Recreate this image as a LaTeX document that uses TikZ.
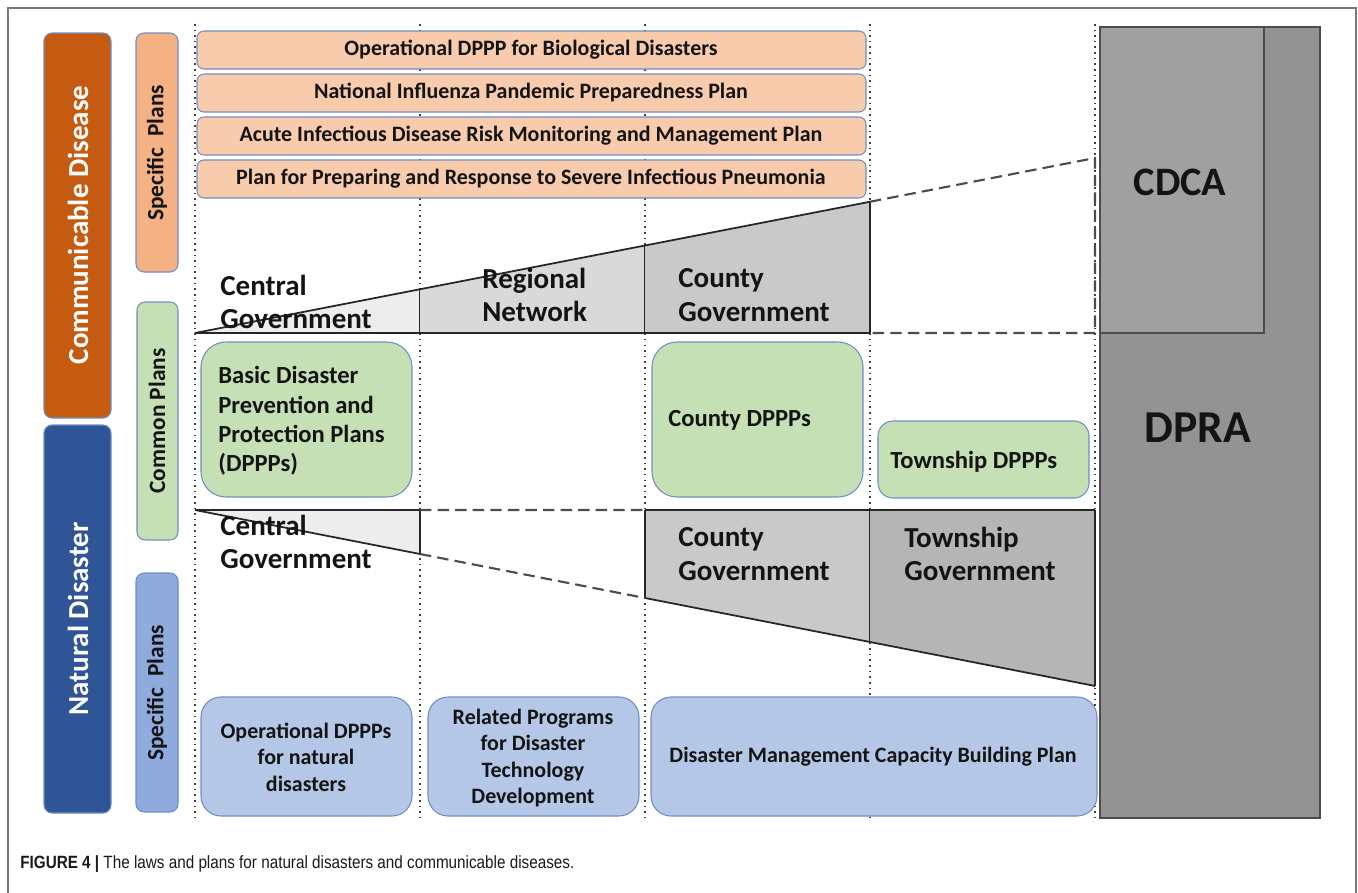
\documentclass[tikz,border=0pt]{standalone}
\usepackage{fontspec}
\setmainfont{Carlito}
\newfontfamily\captionfont[FakeStretch=0.86]{Liberation Sans}
\usepackage{tikz}
\usetikzlibrary{backgrounds}
\definecolor{comm}{RGB}{197, 90, 17}
\definecolor{natural}{RGB}{47, 85, 151}
\definecolor{specorange}{RGB}{244, 177, 131}
\definecolor{planorange}{RGB}{248, 203, 173}
\definecolor{plangreen}{RGB}{197, 224, 180}
\definecolor{specblue}{RGB}{143, 170, 220}
\definecolor{planblue}{RGB}{180, 199, 231}
\definecolor{edge}{RGB}{112, 141, 196}
\definecolor{tierA}{RGB}{237, 237, 237}
\definecolor{tierB}{RGB}{217, 217, 217}
\definecolor{tierC}{RGB}{201, 201, 201}
\definecolor{tierD}{RGB}{181, 181, 181}
\definecolor{cdcagray}{RGB}{160, 160, 160}
\definecolor{dpragray}{RGB}{147, 147, 147}
\definecolor{framegray}{RGB}{120, 120, 120}
\definecolor{ink}{RGB}{20, 20, 20}

\begin{document}
\begin{tikzpicture}[x=0.2mm, y=-0.2mm,
    bar/.style={draw=edge, line width=0.6pt, rounded corners=1.6mm},
    plan/.style={draw=edge, line width=0.6pt},
    colline/.style={black!75, line width=0.9pt, dash pattern=on 0.9pt off 2.3pt},
    tieredge/.style={black!85, line width=1pt},
    tiergap/.style={black!70, line width=1.2pt, dash pattern=on 6.5pt off 3.5pt},
    tierlabel/.style={ink, anchor=west, align=left, inner sep=0pt, font=\bfseries\fontsize{16.5}{19}\selectfont},
    sidelabel/.style={ink, rotate=90, inner sep=0pt, font=\bfseries\fontsize{13.3}{16}\selectfont},
    plantext/.style={ink, align=center, inner sep=0pt, font=\bfseries\fontsize{12.5}{15}\selectfont},
    greentext/.style={ink, anchor=west, align=left, inner sep=0pt, font=\bfseries\fontsize{14}{16.7}\selectfont}]

  \useasboundingbox (0, 0) rectangle (1358, 893);
  \draw[framegray, line width=0.8pt] (8, 893) -- (8, 8) -- (1356, 8) -- (1356, 893);

  \foreach \x in {195, 420, 645, 870, 1095} {
    \draw[colline] (\x, 24) -- (\x, 822);
  }

  % side bars
  \draw[bar, fill=comm] (44, 33) rectangle (111, 418);
  \node[sidelabel, white, font=\bfseries\fontsize{16.5}{19}\selectfont] (commlabel) at (78, 225) {Communicable Disease};
  \draw[bar, fill=natural] (44, 425) rectangle (111, 813);
  \node[sidelabel, white, font=\bfseries\fontsize{16.5}{19}\selectfont] (natlabel) at (78, 619) {Natural Disaster};

  \draw[bar, fill=specorange] (136, 33) rectangle (178, 272);
  \node[sidelabel] (commspec) at (157, 153) {Specific\ \ Plans};
  \draw[bar, fill=plangreen] (137, 302) rectangle (178, 540);
  \node[sidelabel] (common) at (157, 421) {Common Plans};
  \draw[bar, fill=specblue] (136, 573) rectangle (178, 812);
  \node[sidelabel] (natspec) at (157, 693) {Specific\ \ Plans};

  % specific plans for communicable disease
  \foreach \ytop/\name/\txt in {31/bioplan/{Operational DPPP for Biological Disasters},
      74/fluplan/{National Influenza Pandemic Preparedness Plan},
      117/acuteplan/{Acute Infectious Disease Risk Monitoring and Management Plan},
      160/pneuplan/{Plan for Preparing and Response to Severe Infectious Pneumonia}} {
    \pgfmathsetmacro{\ybot}{\ytop + 38};
    \draw[plan, fill=planorange, rounded corners=1.4mm] (197, \ytop) rectangle (866, \ybot);
    \node[plantext] (\name) at (531, \ytop + 19) {\txt};
  }

  % upper levels
  \foreach \n/\c in {0/tierA, 1/tierB, 2/tierC} {
    \pgfmathsetmacro{\xa}{195 + 225 * \n};
    \pgfmathsetmacro{\xb}{\xa + 225};
    \pgfmathsetmacro{\ya}{333 - 43.75 * \n};
    \pgfmathsetmacro{\yb}{\ya - 43.75};
    \fill[\c] (\xa, \ya) -- (\xb, \yb) -- (\xb, 333) -- (\xa, 333) -- cycle;
    \draw[tieredge] (\xb, \yb) -- (\xb, 333);
  }
  \draw[tieredge] (195, 333) -- (870, 201.75);
  \draw[tieredge] (195, 333) -- (870, 333);
  \draw[tiergap] (870, 201.75) -- (1095, 158) -- (1095, 333) -- (870, 333);

  \node[tierlabel] (ucentral) at (220, 302) {Central\\Government};
  \node[tierlabel] (uregional) at (482, 295) {Regional\\Network};
  \node[tierlabel] (ucounty) at (678, 295) {County\\Government};

  % lower levels
  \foreach \n/\c in {0/tierA, 2/tierC, 3/tierD} {
    \pgfmathsetmacro{\xa}{195 + 225 * \n};
    \pgfmathsetmacro{\xb}{\xa + 225};
    \pgfmathsetmacro{\ya}{510 + 44 * \n};
    \pgfmathsetmacro{\yb}{\ya + 44};
    \fill[\c] (\xa, 510) -- (\xb, 510) -- (\xb, \yb) -- (\xa, \ya) -- cycle;
    \draw[tieredge] (\xa, 510) -- (\xb, 510) (\xb, 510) -- (\xb, \yb) (\xa, \ya) -- (\xb, \yb);
  }
  \draw[tieredge, line width=0.6pt] (645, 510) -- (645, 598);
  \draw[tiergap] (420, 510) -- (645, 510) (420, 554) -- (645, 598);

  \node[tierlabel] (lcentral) at (220, 542) {Central\\Government};
  \node[tierlabel] (lcounty) at (678, 554) {County\\Government};
  \node[tierlabel] (ltownship) at (904, 554) {Township\\Government};

  % common plans
  \draw[plan, fill=plangreen, rounded corners=5mm] (201, 342) rectangle (412, 497);
  \node[greentext] (basic) at (218, 421) {Basic Disaster\\Prevention and\\Protection Plans\\(DPPPs)};
  \draw[plan, fill=plangreen, rounded corners=5mm] (652, 342) rectangle (863, 497);
  \node[greentext] (county) at (668, 420) {County DPPPs};
  \draw[plan, fill=plangreen, rounded corners=3mm] (878, 421) rectangle (1089, 498);
  \node[greentext] (township) at (890, 462) {Township DPPPs};

  % specific plans for natural disasters
  \draw[plan, fill=planblue, rounded corners=4mm] (201, 697) rectangle (412, 816);
  \node[plantext] (natops) at (306, 757) {Operational DPPPs\\for natural\\disasters};
  \draw[plan, fill=planblue, rounded corners=4mm] (428, 697) rectangle (639, 816);
  \node[plantext] (techdev) at (533, 758) {Related Programs\\for Disaster\\Technology\\Development};
  \draw[plan, fill=planblue, rounded corners=4mm] (651, 697) rectangle (1097, 816);
  \node[plantext] (capacity) at (873, 757) {Disaster Management Capacity Building Plan};

  % authorities
  \draw[black!70, line width=0.8pt, fill=dpragray] (1100, 27) rectangle (1320, 818);
  \draw[black!70, line width=0.8pt, fill=cdcagray] (1100, 27) rectangle (1264, 333);
  \node[ink, font=\bfseries\fontsize{23}{26}\selectfont] (cdca) at (1180, 182) {CDCA};
  \node[ink, font=\bfseries\fontsize{26}{30}\selectfont] (dpra) at (1198, 428) {DPRA};

  \node[anchor=west, inner sep=0pt, black!90, font=\captionfont\fontsize{10.1}{12}\selectfont] (caption) at (20, 864) {{\bfseries FIGURE 4 |} The laws and plans for natural disasters and communicable diseases.};
\end{tikzpicture}
\end{document}
